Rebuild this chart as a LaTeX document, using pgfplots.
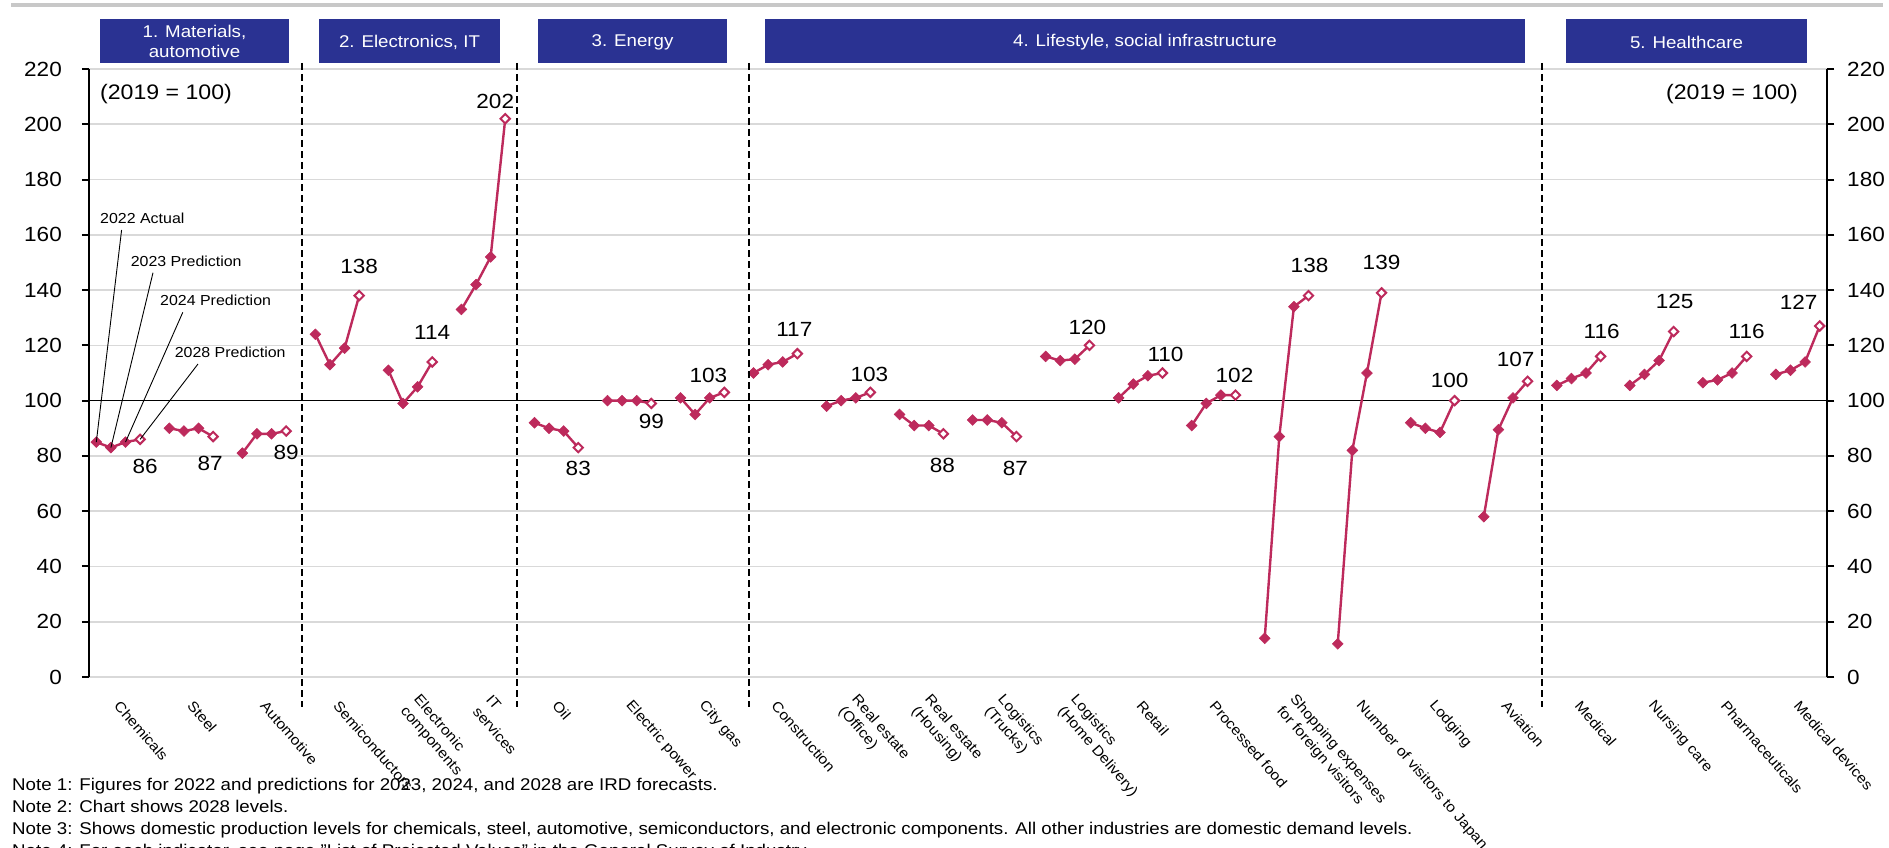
\documentclass[border=0pt]{standalone}
\usepackage{fontspec}
\setmainfont[FakeStretch=1.1]{Liberation Sans}
\usepackage{pgfplots}
\usepackage{pgfplotstable}
\pgfplotsset{compat=1.18}

\definecolor{series}{RGB}{189,42,92}
\definecolor{header}{RGB}{42,50,146}
\definecolor{gridgray}{RGB}{217,217,217}
\definecolor{topline}{RGB}{200,200,200}

% x: five slots per industry (2022, 2023, 2024, 2028, gap); t = 1 marks the 2028 level
\pgfplotstableread{
x y t
0 85 0
1 83 0
2 85 0
3 86 1
4 nan 0
5 90 0
6 89 0
7 90 0
8 87 1
9 nan 0
10 81 0
11 88 0
12 88 0
13 89 1
14 nan 0
15 124 0
16 113 0
17 119 0
18 138 1
19 nan 0
20 111 0
21 99 0
22 105 0
23 114 1
24 nan 0
25 133 0
26 142 0
27 152 0
28 202 1
29 nan 0
30 92 0
31 90 0
32 89 0
33 83 1
34 nan 0
35 100 0
36 100 0
37 100 0
38 99 1
39 nan 0
40 101 0
41 95 0
42 101 0
43 103 1
44 nan 0
45 110 0
46 113 0
47 114 0
48 117 1
49 nan 0
50 98 0
51 100 0
52 101 0
53 103 1
54 nan 0
55 95 0
56 91 0
57 91 0
58 88 1
59 nan 0
60 93 0
61 93 0
62 92 0
63 87 1
64 nan 0
65 116 0
66 114.5 0
67 115 0
68 120 1
69 nan 0
70 101 0
71 106 0
72 109 0
73 110 1
74 nan 0
75 91 0
76 99 0
77 102 0
78 102 1
79 nan 0
80 14 0
81 87 0
82 134 0
83 138 1
84 nan 0
85 12 0
86 82 0
87 110 0
88 139 1
89 nan 0
90 92 0
91 90 0
92 88.5 0
93 100 1
94 nan 0
95 58 0
96 89.5 0
97 101 0
98 107 1
99 nan 0
100 105.5 0
101 108 0
102 110 0
103 116 1
104 nan 0
105 105.5 0
106 109.5 0
107 114.5 0
108 125 1
109 nan 0
110 106.5 0
111 107.5 0
112 110 0
113 116 1
114 nan 0
115 109.5 0
116 111 0
117 114 0
118 127 1
}\projection

% value label next to a 2028 point: x, value, xshift, yshift (pt)
\newcommand\vlab[4]{\node[font=\fontsize{20.5}{20.5}\selectfont, inner sep=0pt, xshift=#3pt, yshift=#4pt] at (axis cs:#1,#2) {#2};}

\pgfplotsset{
  frame/.style={
    at={(89pt,-677pt)}, anchor=south west, scale only axis,
    width=1738pt, height=608pt,
    xmin=-0.5, xmax=118.5, ymin=0, ymax=220,
    ytick={0,20,...,220},
    tick align=outside, major tick length=7pt,
    y axis line style={line width=2pt},
    ytick style={line width=2pt, black},
    /pgf/number format/assume math mode=true,
  },
}

\begin{document}
\begin{tikzpicture}
\useasboundingbox (0pt,0pt) rectangle (1889pt,-848pt);

\begin{axis}[
  frame,
  separate axis lines,
  x axis line style={draw=none},
  xtick={1.5,6.5,...,116.5},
  xtick style={draw=none},
  xticklabels={Chemicals, Steel, Automotive, Semiconductors, {Electronic\\components},
    {IT\\services}, Oil, Electric power, City gas, Construction, {Real estate\\(Office)},
    {Real estate\\(Housing)}, {Logistics\\(Trucks)}, {Logistics\\(Home Delivery)}, Retail,
    Processed food, {Shopping expenses\\for foreign visitors}, Number of visitors to Japan,
    Lodging, Aviation, Medical, Nursing care, Pharmaceuticals, Medical devices},
  xticklabel style={xshift=-1pt, yshift=-19pt, rotate=-49, anchor=west, align=left,
    inner sep=0pt, font=\fontsize{14.3}{17.5}\selectfont},
  yticklabel style={font=\fontsize{20.5}{20.5}\selectfont, inner sep=0pt, xshift=-20pt},
  ymajorgrids, major grid style={gridgray, line width=1.6pt},
  clip=false,
]
% 2019 level
\draw[black, line width=1.2pt] (axis cs:-0.5,100) -- (axis cs:118.5,100);

\addplot[series, line width=2.4pt, unbounded coords=jump, mark=none]
  table[x=x, y=y] {\projection};
\addplot[only marks, mark=square*, mark size=3.8pt,
  mark options={rotate=45, fill=series, draw=series, line width=0.6pt},
  restrict expr to domain={\thisrow{t}}{0:0}]
  table[x=x, y=y] {\projection};
\addplot[only marks, mark=square*, mark size=3.3pt,
  mark options={rotate=45, fill=white, draw=series, line width=2pt},
  restrict expr to domain={\thisrow{t}}{1:1}]
  table[x=x, y=y] {\projection};

\coordinate (c22) at (axis cs:0,85);
\coordinate (c23) at (axis cs:1,83);
\coordinate (c24) at (axis cs:2,85);
\coordinate (c28) at (axis cs:3,86);

\vlab{3}{86}{5}{-27}
\vlab{8}{87}{-3}{-27}
\vlab{13}{89}{0}{-21}
\vlab{18}{138}{0}{29}
\vlab{23}{114}{0}{30}
\vlab{28}{202}{-10}{17}
\vlab{33}{83}{0}{-21}
\vlab{38}{99}{0}{-18}
\vlab{43}{103}{-16}{17}
\vlab{48}{117}{-3}{24}
\vlab{53}{103}{-1}{18}
\vlab{58}{88}{-1}{-32}
\vlab{63}{87}{-1}{-32}
\vlab{68}{120}{-2}{18}
\vlab{73}{110}{3}{19}
\vlab{78}{102}{-1}{20}
\vlab{83}{138}{1}{30}
\vlab{88}{139}{0}{30}
\vlab{93}{100}{-5}{20}
\vlab{98}{107}{-12}{22}
\vlab{103}{116}{1}{25}
\vlab{108}{125}{1}{30}
\vlab{113}{116}{0}{25}
\vlab{118}{127}{-21}{24}
\end{axis}

% right-hand scale
\begin{axis}[
  frame,
  hide x axis,
  axis y line*=right,
  yticklabel style={font=\fontsize{20.5}{20.5}\selectfont, inner sep=0pt, xshift=13pt},
]
\end{axis}

\begin{scope}[x=1pt, y=-1pt]
  \draw[topline, line width=3.3pt] (11,5) -- (1883,5);

  % section headers
  \fill[header] (100,19) rectangle (289,63);
  \fill[header] (319,19) rectangle (500,63);
  \fill[header] (538,19) rectangle (727,63);
  \fill[header] (765,19) rectangle (1525,63);
  \fill[header] (1566,19) rectangle (1807,63);
  \begin{scope}[every node/.style={white, align=center, inner sep=0pt,
      font=\fontsize{17}{20}\selectfont}]
    \node at (194.5,41) {1. Materials,\\automotive};
    \node at (409.5,42) {2. Electronics, IT};
    \node at (632.5,42) {3. Energy};
    \node at (1145,42) {4. Lifestyle, social infrastructure};
    \node at (1686.5,42) {5. Healthcare};
  \end{scope}

  % section separators
  \begin{scope}[black, line width=2pt, dash pattern=on 7pt off 4pt]
    \draw (301.6,63) -- (301.6,707);
    \draw (517,63) -- (517,707);
    \draw (749,63) -- (749,707);
    \draw (1542,63) -- (1542,707);
  \end{scope}

  \node[anchor=west, inner sep=0pt, font=\fontsize{21}{21}\selectfont] at (100,94) {(2019 = 100)};
  \node[anchor=east, inner sep=0pt, font=\fontsize{21}{21}\selectfont] at (1798,94) {(2019 = 100)};

  % year key on the chemicals series
  \begin{scope}[every node/.style={anchor=west, inner sep=0pt, font=\fontsize{14.5}{14.5}\selectfont}]
    \node at (100,218) {2022 Actual};
    \node at (130.6,261.7) {2023 Prediction};
    \node at (160,300.7) {2024 Prediction};
    \node at (174.6,352.7) {2028 Prediction};
  \end{scope}
  \draw[black, line width=0.9pt] (121.6,230) -- (c22);
  \draw[black, line width=0.9pt] (153,272.7) -- (c23);
  \draw[black, line width=0.9pt] (182.8,312.3) -- (c24);
  \draw[black, line width=0.9pt] (198,364) -- (c28);

  % notes
  \begin{scope}[every node/.style={anchor=base west, inner sep=0pt, font=\fontsize{17}{17}\selectfont}]
    \node at (12,790) {Note 1: Figures for 2022 and predictions for 2023, 2024, and 2028 are IRD forecasts.};
    \node at (12,812) {Note 2: Chart shows 2028 levels.};
    \node at (12,834) {Note 3: Shows domestic production levels for chemicals, steel, automotive, semiconductors, and electronic components. All other industries are domestic demand levels.};
    \node at (12,856) {Note 4: For each indicator, see page "List of Projected Values" in the General Survey of Industry.};
  \end{scope}
\end{scope}
\end{tikzpicture}
\end{document}
